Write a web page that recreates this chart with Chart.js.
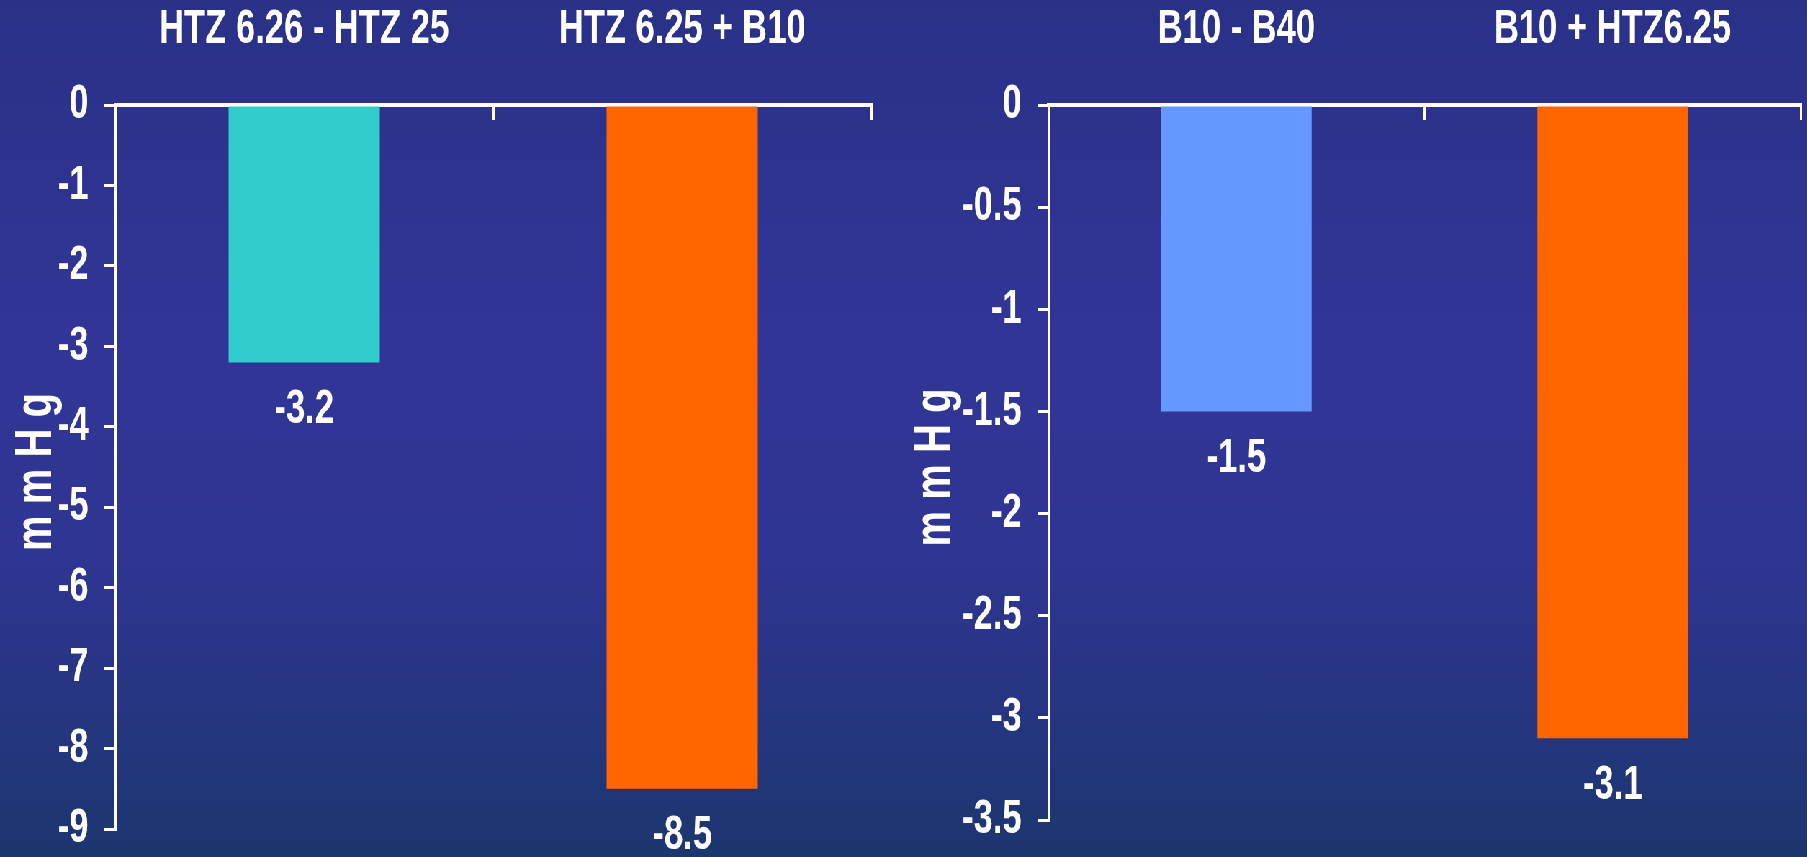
<!DOCTYPE html>
<html>
<head>
<meta charset="utf-8">
<script src="https://cdn.jsdelivr.net/npm/chart.js@4"></script>
<style>
html, body { margin:0; padding:0; }
body {
  width:1807px; height:857px; overflow:hidden; position:relative;
  background: linear-gradient(to bottom, #2a3187 0%, #323597 40%, #2f3592 65%, #1c366f 100%);
}
/* the charts are laid out wide and squeezed sideways for the narrow lettering */
#stage {
  position:absolute; left:0; top:0; width:2510px; height:857px;
  transform:scaleX(0.72); transform-origin:0 0;
}
.box { position:absolute; top:0; height:857px; }
</style>
</head>
<body>
<div id="stage">
  <div class="box" style="left:0;width:1249px"><canvas id="leftChart" width="1249" height="857"></canvas></div>
  <div class="box" style="left:1249px;width:1261px"><canvas id="rightChart" width="1261" height="857"></canvas></div>
</div>
<script>
// HTZ comparison
const htzLabels = ["HTZ 6.26 - HTZ 25", "HTZ 6.25 + B10"];
const htzValues = [-3.2, -8.5];
const htzColors = ["#33cccc", "#ff6600"];
const htzTicks = [0, -1, -2, -3, -4, -5, -6, -7, -8, -9];

// B10 comparison
const b10Labels = ["B10 - B40", "B10 + HTZ6.25"];
const b10Values = [-1.5, -3.1];
const b10Colors = ["#6699ff", "#ff6600"];
const b10Ticks = [0, -0.5, -1, -1.5, -2, -2.5, -3, -3.5];

const unitTitle = "m m H g";

const FONT = '"Liberation Sans", Arial, sans-serif';
Chart.defaults.font.family = FONT;
Chart.defaults.color = "#ffffff";

// value text under the end of each bar
const valueLabels = {
  id: "valueLabels",
  afterDatasetsDraw(chart){
    const ctx = chart.ctx;
    const values = chart.data.datasets[0].data;
    ctx.save();
    ctx.font = "bold 48px " + FONT;
    ctx.fillStyle = "#ffffff";
    ctx.textAlign = "center";
    ctx.textBaseline = "middle";
    chart.getDatasetMeta(0).data.forEach((bar, i) => {
      ctx.fillText(String(values[i]), bar.x, bar.y + 47);
    });
    ctx.restore();
  }
};

// rotated unit title, drawn unsqueezed (and a bit tall) beside the y axis
const unitLabel = {
  id: "unitLabel",
  afterDraw(chart){
    const ctx = chart.ctx;
    const area = chart.chartArea;
    ctx.save();
    ctx.translate(51, (area.top + area.bottom) / 2 + 5);
    ctx.scale(1.8, 1);
    ctx.rotate(-Math.PI / 2);
    ctx.font = "bold 40px " + FONT;
    ctx.fillStyle = "#ffffff";
    ctx.textAlign = "center";
    ctx.textBaseline = "middle";
    ctx.fillText(unitTitle, 0, 0);
    ctx.restore();
  }
};

function makeChart(id, labels, values, colors, ticks, axisWidth, pad){
  return new Chart(document.getElementById(id), {
    type: "bar",
    data: {
      labels: labels,
      datasets: [{
        data: values,
        backgroundColor: colors,
        borderWidth: 0,
        barPercentage: 0.4,
        categoryPercentage: 1
      }]
    },
    options: {
      responsive: false,
      animation: false,
      layout: { padding: pad },
      plugins: { legend: { display:false }, tooltip: { enabled:false } },
      scales: {
        x: {
          position: "top",
          afterFit: s => { s.height = 105; s.paddingLeft = 0; s.paddingRight = 0; },
          border: { color:"#ffffff", width:4 },
          grid: { drawOnChartArea:false, color:"#ffffff", lineWidth:3, tickLength:-15, offset:true },
          ticks: { color:"#ffffff", padding:61, maxRotation:0, autoSkip:false,
                   font:{ size:48, weight:"bold" } }
        },
        y: {
          min: ticks[ticks.length - 1],
          max: 0,
          afterBuildTicks: a => { a.ticks = ticks.map(v => ({ value:v })); },
          afterFit: s => { s.width = axisWidth; s.paddingTop = 0; s.paddingBottom = 0; },
          border: { color:"#ffffff", width:3 },
          grid: { drawOnChartArea:false, color:"#ffffff", lineWidth:3, tickLength:15 },
          ticks: { color:"#ffffff", padding:22, font:{ size:48, weight:"bold" },
                   callback: v => String(v) }
        }
      }
    },
    plugins: [valueLabels, unitLabel]
  });
}

makeChart("leftChart", htzLabels, htzValues, htzColors, htzTicks, 160,
  { left:0, right:39, top:0, bottom:28 });
makeChart("rightChart", b10Labels, b10Values, b10Colors, b10Ticks, 207,
  { left:0, right:9, top:0, bottom:37 });
</script>
</body>
</html>
